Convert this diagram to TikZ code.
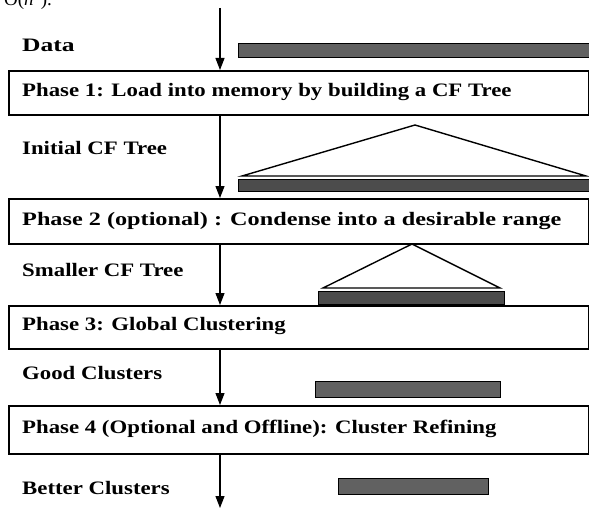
\documentclass[tikz,border=0pt]{standalone}
\usepackage{fontspec}
\setmainfont{Liberation Serif}
\newfontfamily\lblfont{Liberation Serif}[FakeStretch=1.2]
\usetikzlibrary{arrows.meta}
\begin{document}
\begin{tikzpicture}[x=1pt,y=-1pt,
  box/.style={draw, line width=1.6pt, inner sep=0pt, anchor=north west, minimum width=580pt},
  lbl/.style={anchor=west, inner sep=0pt, font=\lblfont\fontsize{19}{22}\selectfont\bfseries},
  bar/.style={draw, line width=1.3pt, fill=black!62, inner sep=0pt, anchor=north west},
  arr/.style={line width=1.1pt, -{Triangle[length=12pt,width=9pt]}},
  tri/.style={line width=1.4pt, line join=miter}]
\useasboundingbox (0,0) rectangle (589,508);
\clip (0,0) rectangle (589,508);
% partial text at the top
\node[anchor=base west, inner sep=0pt, font=\fontsize{19}{22}\selectfont] (top) at (4,6) {O(\textit{n}\textsuperscript{2}).};
% phase boxes
\node[box, minimum height=44pt] (p1) at (8,70) {};
\node[box, minimum height=45pt] (p2) at (8,198) {};
\node[box, minimum height=43pt] (p3) at (8,305) {};
\node[box, minimum height=48pt] (p4) at (8,405) {};
% labels
\node[lbl] (ldata) at (22,45) {\scalebox{1.12}[1]{Data}};
\node[lbl] (l1) at (22,92) {Phase 1: Load into memory by building a CF Tree};
\node[lbl] (linit) at (22,148) {Initial CF Tree};
\node[lbl] (l2) at (22,221) {\scalebox{1.063}[1]{Phase 2 (optional) : Condense into a desirable range}};
\node[lbl] (lsmall) at (22,270) {Smaller CF Tree};
\node[lbl] (l3) at (22,326) {Phase 3: Global Clustering};
\node[lbl] (lgood) at (22,373) {Good Clusters};
\node[lbl] (l4) at (22,429) {Phase 4 (Optional and Offline): Cluster Refining};
\node[lbl] (lbetter) at (22,488) {Better Clusters};
% bars
\node[bar, minimum width=360pt, minimum height=14pt] (bdata) at (238,43) {};
\node[bar, minimum width=360pt, minimum height=12pt, fill=black!70] (binit) at (238,179) {};
\node[bar, minimum width=186pt, minimum height=13pt, fill=black!70] (bsmall) at (318,291) {};
\node[bar, minimum width=185pt, minimum height=16pt] (bgood) at (315,381) {};
\node[bar, minimum width=150pt, minimum height=16pt] (bbetter) at (338,478) {};
% triangles
\coordinate (t1a) at (415,125);
\coordinate (t1l) at (242,176);
\coordinate (t1r) at (586,176);
\draw[tri] (t1l) -- (t1a) -- (t1r) -- cycle;
\coordinate (t2a) at (412,244);
\coordinate (t2l) at (323,288);
\coordinate (t2r) at (500,288);
\draw[tri] (t2l) -- (t2a) -- (t2r) -- cycle;
% arrows
\coordinate (a0) at (220,8);
\coordinate (a5) at (220,508);
\draw[arr] (a0) -- (a0 |- p1.north);
\draw[arr] (a0 |- p1.south) -- (a0 |- p2.north);
\draw[arr] (a0 |- p2.south) -- (a0 |- p3.north);
\draw[arr] (a0 |- p3.south) -- (a0 |- p4.north);
\draw[arr] (a0 |- p4.south) -- (a5);
\end{tikzpicture}
\end{document}
